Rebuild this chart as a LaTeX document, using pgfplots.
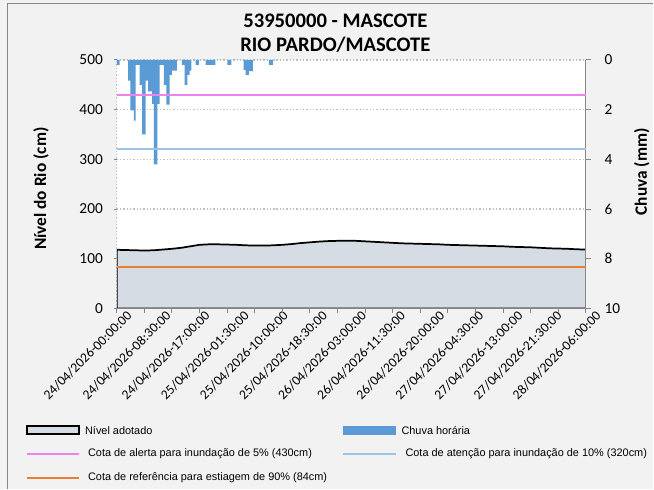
\documentclass[border=0pt]{standalone}
\usepackage{fontspec}
\setmainfont{Carlito}
\newfontfamily\legfont{Liberation Sans}
\usepackage{pgfplots}
\pgfplotsset{compat=1.18}
\usepackage{pgfplotstable}
\definecolor{bgc}{HTML}{F2F2F2}
\definecolor{areac}{HTML}{D6DCE4}
\definecolor{rainc}{HTML}{5B9BD5}
\definecolor{alertc}{HTML}{EE82EE}
\definecolor{atenc}{HTML}{9DC3E6}
\definecolor{estc}{HTML}{ED7D31}
\definecolor{axc}{HTML}{868686}
\definecolor{gridc}{HTML}{BFBFBF}

\pgfplotstableread{
h cm
0 118
2 117.5
4 117
6 116.5
8 117
10 118.5
12 120
14 122
16 125
18 128
20 129
22 129
24 128.5
26 128
28 127
30 126.5
32 126.5
34 127
36 128
38 129.5
40 131.5
42 133
44 134.5
46 135.5
48 136
50 136
52 136
54 135
56 134
58 133
60 132
62 131
64 130.5
66 130
68 129.5
70 129
72 128
74 127.5
76 127
78 126.5
80 126
82 125.5
84 125
86 124
88 123.5
90 123
92 122
94 121
96 120.5
98 120
100 119
102 118.5
}\level

\pgfplotstableread{
h mm
0 0.2
0.6 0
2.45 0.83
2.97 2.03
3.69 2.44
4.12 0.2
4.99 1.0
5.49 3.0
6.29 0.83
6.79 1.27
7.66 1.77
8.09 4.2
8.83 1.77
9.33 0.2
10.26 1.0
10.79 1.8
11.5 0.6
12.0 0.43
13.09 0
14.17 0.2
14.76 1.0
15.34 0.6
15.84 0.43
16.21 0
17.14 0.2
17.86 0
19.31 0.2
21.42 0
24.02 0.2
24.89 0
27.56 0.4
28.0 0.6
28.71 0.45
29.58 0
33.05 0.2
33.92 0
}\rain

\pgfplotsset{myaxis/.style={
  at={(87.75pt,-231.75pt)}, anchor=south west,
  scale only axis, width=352.5pt, height=186.75pt,
  xmin=0, xmax=102,
}}

\begin{document}
\begin{tikzpicture}
\begin{scope}[x=0.75pt,y=-0.75pt]
\useasboundingbox (0,0) rectangle (654,490);
\fill[bgc] (0,0) rectangle (654,490);
\draw[axc, line width=0.75pt] (8,490) -- (8,4) -- (654,4);
\end{scope}

% primary axis: river level
\begin{axis}[
  myaxis, ymin=0, ymax=500,
  axis background/.style={fill=white},
  axis x line*=bottom, axis y line*=left,
  x axis line style={axc, line width=0.75pt, -},
  y axis line style={gridc, line width=1pt, dash pattern=on 1pt off 1.5pt, -},
  xtick={0,8.5,17,25.5,34,42.5,51,59.5,68,76.5,85,93.5,102},
  xticklabels={24/04/2026-00:00:00,24/04/2026-08:30:00,24/04/2026-17:00:00,25/04/2026-01:30:00,25/04/2026-10:00:00,25/04/2026-18:30:00,26/04/2026-03:00:00,26/04/2026-11:30:00,26/04/2026-20:00:00,27/04/2026-04:30:00,27/04/2026-13:00:00,27/04/2026-21:30:00,28/04/2026-06:00:00},
  xtick style={draw=none},
  ytick={0,100,200,300,400,500},
  ytick style={axc, line width=0.75pt},
  tick align=outside,
  major tick length=2pt,
  ymajorgrids,
  major grid style={gridc, line width=1pt, dash pattern=on 1pt off 1.5pt},
  /pgf/number format/assume math mode=true,
  yticklabel style={font=\fontsize{11.5}{13}\selectfont, xshift=-5pt},
  xticklabel style={font=\fontsize{10.2}{11}\selectfont, rotate=45, anchor=north east, inner sep=0pt, xshift=5.5pt, yshift=-4pt},
]
\addplot[fill=areac, draw=black, line width=1.3pt] table[x=h, y=cm] {\level} \closedcycle;
\end{axis}

% secondary axis: rain
\begin{axis}[
  myaxis, ymin=0, ymax=10, y dir=reverse,
  axis x line*=bottom, axis y line*=right,
  axis line style={axc, line width=0.75pt, -},
  xtick={0,6,...,102}, xticklabels={},
  ytick={0,2,4,6,8,10},
  tick style={axc, line width=0.75pt},
  tick align=outside, major tick length=3.5pt,
  /pgf/number format/assume math mode=true,
  yticklabel style={font=\fontsize{11.5}{13}\selectfont, xshift=7pt},
]
\addplot[ybar interval, fill=rainc, draw=none] table[x=h, y=mm] {\rain};
\end{axis}

% reference lines on top
\begin{axis}[
  myaxis, ymin=0, ymax=500, hide axis,
]
\addplot[alertc, line width=1.4pt] coordinates {(0,430) (102,430)};
\addplot[atenc, line width=1.4pt] coordinates {(0,320) (102,320)};
\addplot[estc, line width=1.5pt] coordinates {(0,84) (102,84)};
\end{axis}

\begin{scope}[x=0.75pt,y=-0.75pt]
% titles
\node[font=\bfseries\fontsize{15.5}{18}\selectfont, align=center] at (336,33) {53950000 - MASCOTE\\RIO PARDO/MASCOTE};
\node[rotate=90, font=\bfseries\fontsize{13}{15}\selectfont] at (41,189) {Nível do Rio (cm)};
\node[rotate=90, font=\bfseries\fontsize{13}{15}\selectfont] at (643,172) {Chuva (mm)};

% legend
\begin{scope}[every node/.style={anchor=west, inner sep=0pt, font=\legfont\fontsize{8.2}{10}\selectfont}]
\draw[black, line width=1.3pt, fill=areac] (27,427) rectangle (79,435);
\node at (85,431) {Nível adotado};
\fill[rainc] (344,427) rectangle (397,436);
\node at (402,431) {Chuva horária};
\draw[alertc, line width=1.4pt] (27,455) -- (79,455);
\node at (88,455) {Cota de alerta para inundação de 5\% (430cm)};
\draw[atenc, line width=1.4pt] (344,455) -- (397,455);
\node at (406,455) {Cota de atenção para inundação de 10\% (320cm)};
\draw[estc, line width=1.5pt] (27,479) -- (79,479);
\node at (88,479) {Cota de referência para estiagem de 90\% (84cm)};
\end{scope}
\end{scope}
\end{tikzpicture}
\end{document}
